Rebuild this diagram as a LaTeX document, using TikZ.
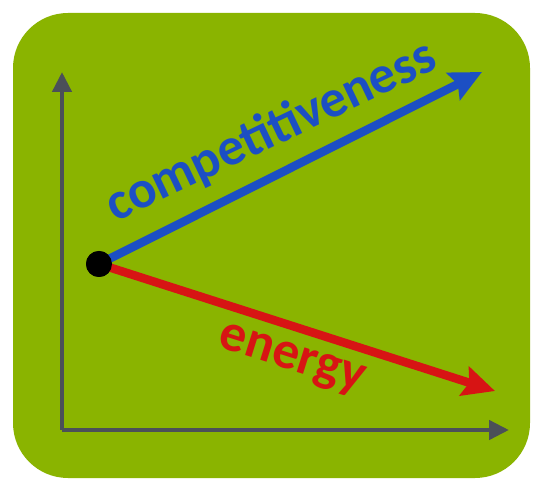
\documentclass[tikz,border=0pt]{standalone}
\usepackage{fontspec}
\setmainfont{Carlito}
\usetikzlibrary{arrows.meta}
\definecolor{bggreen}{HTML}{8AB400}
\definecolor{axisgray}{HTML}{4B5058}
\definecolor{arrblue}{HTML}{1C4FC4}
\definecolor{arrred}{HTML}{D71414}
\tikzset{
  axisline/.style={draw=axisgray, line width=4.5pt, -{Triangle[length=20pt,width=19pt]}},
  bigarrow/.style={line width=8.5pt, -{Stealth[length=32pt,width=30pt,inset=5pt]}},
  lbl/.style={font=\bfseries\fontsize{53}{53}\selectfont, inner sep=0pt}
}
\begin{document}
\begin{tikzpicture}[x=1pt,y=-1pt]
\useasboundingbox (0,0) rectangle (533,481);
\fill[white] (0,0) rectangle (533,481);
\fill[bggreen, rounded corners=55pt] (13,13) rectangle (530,478);
\coordinate (O) at (62,430);
\coordinate (Y) at (62,72);
\coordinate (X) at (509,430);
\draw[axisline] (O) -- (Y);
\draw[axisline] (O) -- (X);
\coordinate (C) at (482,72);
\coordinate (E) at (495,391);
\node[circle, fill=black, minimum size=26pt, inner sep=0pt] (dot) at (99,264) {};
\draw[bigarrow, draw=arrblue, fill=arrblue] (dot.center) -- (C);
\draw[bigarrow, draw=arrred, fill=arrred] (dot.center) -- (E);
\node[circle, fill=black, minimum size=26pt, inner sep=0pt] at (dot) {};
\node[lbl, text=arrblue, rotate=25.5] (comp) at (271,132) {competitiveness};
\node[lbl, text=arrred, rotate=-17.5] (en) at (291,361) {energy};
\end{tikzpicture}
\end{document}
